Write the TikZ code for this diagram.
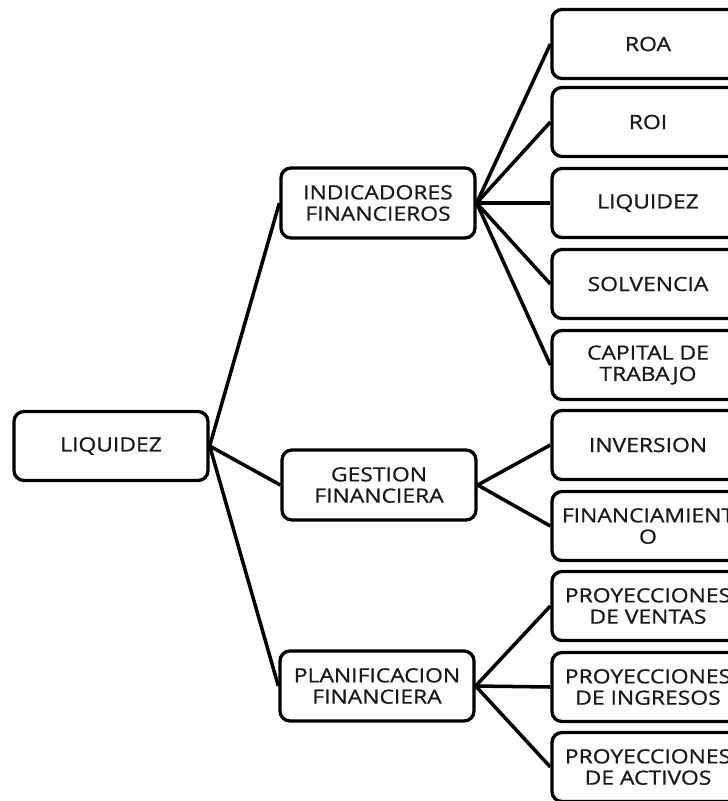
\documentclass[tikz,border=0pt]{standalone}
\usepackage{fontspec}
\setmainfont[FakeStretch=1.17, FakeBold=0.8]{Open Sans}
\usepackage{tikz}

\begin{document}
\begin{tikzpicture}[x=0.03cm, y=-0.03cm,
        every node/.style={font=\fontsize{16.7pt}{18.2pt}\selectfont, text=black!90},
        box/.style={draw, line width=2.8pt, rounded corners=0.3cm, align=center, inner sep=0pt},
        topbox/.style={box, minimum width=5.82cm, minimum height=2.07cm},
        midbox/.style={box, minimum width=5.82cm, minimum height=2.1cm},
        leafbox/.style={box, minimum width=5.76cm, minimum height=2.07cm},
        link/.style={line width=3pt}]
        \useasboundingbox (0,0) rectangle (728,801);

        \node[topbox] (liq) at (111,446) {LIQUIDEZ};

        \node[midbox] (ind) at (378,203) {INDICADORES\\FINANCIEROS};
        \node[midbox] (ges) at (379,485) {GESTION\\FINANCIERA};
        \node[midbox] (pla) at (377,686) {PLANIFICACION\\FINANCIERA};

        \node[leafbox] (roa) at (648,44) {ROA};
        \node[leafbox] (roi) at (648,122) {ROI};
        \node[leafbox] (liq2) at (648,203) {LIQUIDEZ};
        \node[leafbox] (sol) at (648,284) {SOLVENCIA};
        \node[leafbox] (cap) at (648,365) {CAPITAL DE\\TRABAJO};
        \node[leafbox] (inv) at (648,445) {INVERSION};
        \node[leafbox] (fin) at (648,526) {FINANCIAMIENT\\O};
        \node[leafbox] (pven) at (648,606) {PROYECCIONES\\DE VENTAS};
        \node[leafbox] (ping) at (648,687) {PROYECCIONES\\DE INGRESOS};
        \node[leafbox] (pact) at (648,767) {PROYECCIONES\\DE ACTIVOS};

        \draw[link] (liq.east) -- (ind.west);
        \draw[link] (liq.east) -- (ges.west);
        \draw[link] (liq.east) -- (pla.west);

        \draw[link] (ind.east) -- (roa.west);
        \draw[link] (ind.east) -- (roi.west);
        \draw[link] (ind.east) -- (liq2.west);
        \draw[link] (ind.east) -- (sol.west);
        \draw[link] (ind.east) -- (cap.west);

        \draw[link] (ges.east) -- (inv.west);
        \draw[link] (ges.east) -- (fin.west);

        \draw[link] (pla.east) -- (pven.west);
        \draw[link] (pla.east) -- (ping.west);
        \draw[link] (pla.east) -- (pact.west);
    \end{tikzpicture}
\end{document}
